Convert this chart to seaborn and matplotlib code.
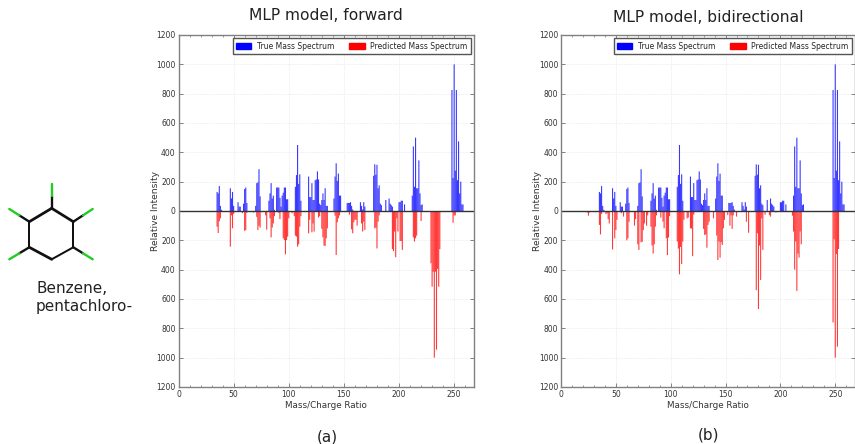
import matplotlib
matplotlib.use("Agg")
import matplotlib.pyplot as plt
from matplotlib.lines import Line2D
from matplotlib.patches import Patch
import numpy as np
import pandas as pd
import seaborn as sns

true_mz = [35,36,37,38,39,47,48,49,50,54,55,56,59,60,61,62,70,71,72,73,74,82,83,84,85,86,87,89,90,91,92,93,94,95,96,97,98,99,
           106,107,108,109,110,111,118,119,120,121,122,123,124,125,126,127,128,129,130,131,132,133,134,135,
           141,142,143,144,145,146,147,153,154,155,156,157,158,165,166,167,168,169,
           177,178,179,180,181,182,183,184,188,191,192,193,194,200,201,202,203,205,
           212,213,214,215,216,217,218,219,220,221,248,249,250,251,252,253,254,255,256,257,258]
true_val = [130,120,170,35,8,155,86,130,35,60,30,30,50,150,160,55,35,190,195,285,100,70,120,190,85,105,8,160,160,160,90,30,105,125,160,160,80,80,
            165,245,450,185,250,70,235,95,95,190,75,75,210,215,270,215,50,40,75,120,75,155,35,35,
            85,235,325,205,255,105,105,55,55,55,60,35,10,60,35,10,60,30,
            240,318,248,315,155,175,50,40,75,85,50,40,30,60,60,70,70,45,
            105,440,165,500,155,155,345,120,40,45,825,225,1000,275,825,210,475,120,200,45,45]

fwd_mz = [35,36,37,38,47,48,49,50,58,60,61,62,68,71,72,73,74,79,80,83,84,85,86,87,91,92,95,96,97,98,99,100,103,105,106,107,108,109,110,111,
          118,119,121,122,123,127,128,130,131,132,133,134,135,142,143,144,145,146,155,157,158,159,160,161,162,166,167,168,169,
          178,179,180,181,182,194,195,196,197,198,199,201,202,203,213,214,215,216,220,229,230,231,232,233,234,235,236,237,249,250,251]
fwd_val = [107,150,70,50,243,30,118,20,15,135,130,12,10,40,130,100,113,30,127,50,180,113,85,35,12,55,186,198,295,198,175,50,15,35,168,175,243,227,107,35,
           152,60,145,85,140,45,35,122,180,236,238,186,118,32,300,77,50,30,25,125,152,77,60,60,100,85,140,73,130,
           118,113,255,73,30,260,273,140,315,50,140,205,205,265,180,208,186,168,68,356,516,414,1000,414,945,395,516,260,80,30,30]

bi_mz = [24,25,26,32,35,36,37,41,42,43,44,47,49,50,51,55,57,60,61,62,67,68,70,71,73,74,75,76,78,79,82,83,84,85,86,87,91,93,94,96,97,98,99,
         106,107,108,109,110,111,112,115,116,118,119,120,121,130,131,132,133,134,135,139,142,143,144,145,146,147,148,149,152,154,155,156,157,160,169,171,
         178,179,180,181,182,183,184,186,190,191,196,211,212,213,214,215,216,217,218,219,248,249,250,251,252,253]
bi_val = [10,32,10,8,95,160,20,22,15,55,85,262,186,130,60,15,38,200,186,73,100,55,227,265,213,210,130,85,100,30,107,235,290,227,107,30,45,73,118,186,300,180,35,
          208,256,432,245,362,208,60,50,45,118,120,308,25,122,163,160,250,95,73,50,168,334,208,318,213,232,118,60,28,100,30,122,30,38,73,148,
          540,152,668,236,470,50,265,25,28,38,10,32,140,400,208,545,290,318,140,227,760,193,1000,293,925,259]

chart_titles = ["MLP model, forward", "MLP model, bidirectional"]
captions = ["(a)", "(b)"]
yticks = [-1200,-1000,-800,-600,-400,-200,0,200,400,600,800,1000,1200]
xticks = [0,50,100,150,200,250]
molecule_name = "Benzene,\npentachloro-"

sns.set_theme(style="white")
plt.rcParams['font.family'] = ['DejaVu Sans']
W, H = 855, 444
fig = plt.figure(figsize=(W/100, H/100), dpi=100)

def make_axes(x0, x1, y0=35, y1=387):
    return fig.add_axes([x0/W, 1-y1/H, (x1-x0)/W, (y1-y0)/H])

GREY = "#6f6f6f"
for (x0, x1), pred_mz, pred_val, title, cap, capy, titley in zip(
        [(178.5, 474), (561, 855)], [fwd_mz, bi_mz], [fwd_val, bi_val], chart_titles, captions, [437, 435], [15.5, 17.5]):
    ax = make_axes(x0, x1)
    sns.barplot(x=true_mz, y=true_val, native_scale=True, color="blue", saturation=1, alpha=0.78,
                width=1.0, ax=ax, linewidth=0, errorbar=None, snap=False)
    sns.barplot(x=pred_mz, y=-np.array(pred_val), native_scale=True, color="red", saturation=1, alpha=0.78,
                width=1.0, ax=ax, linewidth=0, errorbar=None, snap=False)
    ax.axhline(0, color="#333333", lw=1)
    ax.set_xlim(0, 268)
    ax.set_ylim(-1200, 1200)
    ax.set_xticks(xticks)
    ax.set_yticks(yticks)
    ax.set_yticklabels([str(abs(t)) for t in yticks])
    ax.xaxis.set_minor_locator(matplotlib.ticker.MultipleLocator(10))
    ax.tick_params(which="major", direction="in", top=True, right=True, length=3, width=0.6,
                   color=GREY, labelsize=5.5, labelcolor="#333333", pad=2, left=True, bottom=True)
    ax.tick_params(which="minor", direction="in", top=True, bottom=True, length=1.5, width=0.5, color=GREY)
    ax.grid(True, ls=":", lw=0.5, color="#dddddd")
    ax.set_axisbelow(True)
    for s in ax.spines.values():
        s.set_color("#808080"); s.set_linewidth(1.0); s.set_visible(True)
    ax.set_xlabel("Mass/Charge Ratio", fontsize=6.3, color="#333333", labelpad=1.5)
    ax.set_ylabel("Relative Intensity", fontsize=6.6, color="#333333", labelpad=-2.5)
    fig.text((x0+x1)/2/W, 1-titley/H, title, fontsize=11.2, ha="center", va="center", color="#222222")
    fig.text((x0+x1)/2/W+0.001, 1-capy/H, cap, fontsize=11, ha="center", va="center", color="#222222")
    ax.legend(handles=[Patch(color="blue", label="True Mass Spectrum"), Patch(color="red", label="Predicted Mass Spectrum")],
              loc="upper right", ncol=2, fontsize=5.5, frameon=True, fancybox=False, edgecolor="#555555",
              framealpha=1, borderaxespad=0.45, columnspacing=2.0, handlelength=2.0, handleheight=0.9,
              borderpad=0.45, handletextpad=0.7)

# molecule drawn in pixel coordinates on a transparent overlay
ov = fig.add_axes([0, 0, 1, 1]); ov.set_xlim(0, W); ov.set_ylim(H, 0); ov.axis("off"); ov.patch.set_alpha(0)
ring_x = [51.7, 73.3, 73.3, 51.7, 29.3, 29.3, 51.7]
ring_y = [208.3, 221.7, 247.3, 259.3, 247.3, 221.7, 208.3]
ring_w = [2.2, 1.6, 1.6, 2.2, 1.6, 2.2]
for i in range(6):
    ov.add_line(Line2D(ring_x[i:i+2], ring_y[i:i+2], color="#111111", lw=ring_w[i]*0.9, solid_capstyle="round"))
bond_start = [(51.7,208.3),(73.3,221.7),(73.3,247.3),(29.3,247.3),(29.3,221.7)]
bond_end = [(51.7,184),(92.7,209),(92.7,259.3),(9.3,259.3),(9.3,209)]
for a, b in zip(bond_start, bond_end):
    m = ((a[0]+b[0])/2, (a[1]+b[1])/2)
    ov.add_line(Line2D([a[0], m[0]], [a[1], m[1]], color="#111111", lw=1.7))
    ov.add_line(Line2D([m[0], b[0]], [m[1], b[1]], color="#22cc22", lw=1.7))
ov.text(36, 297, molecule_name, fontsize=11, color="#222222", va="center", ha="left", linespacing=1.25)

fig.savefig("out.png", dpi=100)
